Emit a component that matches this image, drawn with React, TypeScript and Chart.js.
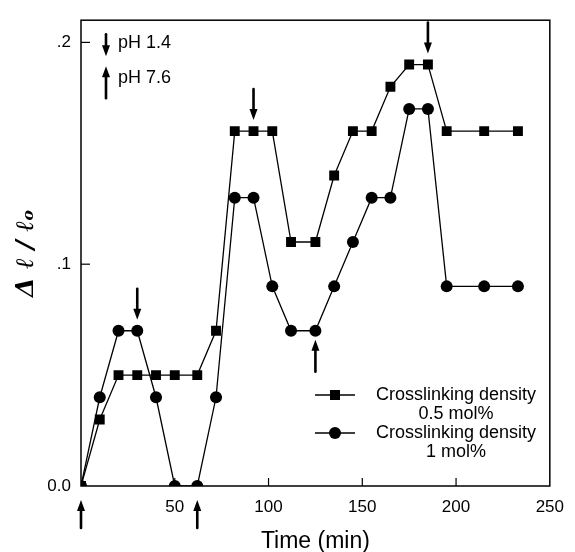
import React, { useEffect, useRef } from "react";
import { Chart, registerables } from "chart.js";

Chart.register(...registerables);

// ---- data ----
const times = [0, 10, 20, 30, 40, 50, 62, 72, 82, 92, 102, 112, 125, 135, 145, 155, 165, 175, 185, 195, 215, 233];
const density05 = [0, 0.03, 0.05, 0.05, 0.05, 0.05, 0.05, 0.07, 0.16, 0.16, 0.16, 0.11, 0.11, 0.14, 0.16, 0.16, 0.18, 0.19, 0.19, 0.16, 0.16, 0.16];
const density1 = [0, 0.04, 0.07, 0.07, 0.04, 0, 0, 0.04, 0.13, 0.13, 0.09, 0.07, 0.07, 0.09, 0.11, 0.13, 0.13, 0.17, 0.17, 0.09, 0.09, 0.09];

const xTicks = [0, 50, 100, 150, 200, 250];
const xTickLabels = ["", "50", "100", "150", "200", "250"];
const yTicks = [0, 0.1, 0.2];
const yTickLabels = ["0.0", ".1", ".2"];

const seriesLabels = [["Crosslinking density", "0.5 mol%"], ["Crosslinking density", "1 mol%"]];
const phLabels = ["pH 1.4", "pH 7.6"];

// pH change markers: down arrows = pH 1.4, up arrows = pH 7.6
const phDownTimes = [30, 92, 185];
const phDownValues = [0.07, 0.16, 0.19];
const phUpTimes = [125];
const phUpValues = [0.07];
const phUpAxisTimes = [0, 62];

const FONT = '"Liberation Sans", Arial, sans-serif';

function drawArrow(ctx: CanvasRenderingContext2D, x: number, tipY: number, length: number, dir: number) {
  // dir = 1 -> pointing down (tip below tail), -1 -> pointing up
  const headLen = 11;
  const headHalf = 4;
  const tailY = tipY - dir * length;
  const baseY = tipY - dir * headLen;
  ctx.save();
  ctx.strokeStyle = "#000";
  ctx.fillStyle = "#000";
  ctx.lineWidth = 2.6;
  ctx.lineCap = "round";
  ctx.beginPath();
  ctx.moveTo(x, tailY);
  ctx.lineTo(x, baseY + dir * 2);
  ctx.stroke();
  ctx.beginPath();
  ctx.moveTo(x, tipY);
  ctx.lineTo(x - headHalf, baseY);
  ctx.lineTo(x + headHalf, baseY);
  ctx.closePath();
  ctx.fill();
  ctx.restore();
}

const decorPlugin = {
  id: "decor",
  afterDraw(chart: any) {
    const { ctx, chartArea: ca, scales } = chart;
    const xs = scales.x;
    const ys = scales.y;
    ctx.save();
    // frame
    ctx.strokeStyle = "#000";
    ctx.lineWidth = 1.5;
    ctx.strokeRect(ca.left, ca.top, ca.right - ca.left, ca.bottom - ca.top);
    // inner ticks
    ctx.lineWidth = 1.2;
    yTicks.forEach((v) => {
      if (v === 0) return;
      const py = ys.getPixelForValue(v);
      ctx.beginPath();
      ctx.moveTo(ca.left, py);
      ctx.lineTo(ca.left + 9, py);
      ctx.stroke();
    });
    xTicks.forEach((v) => {
      if (v === 0 || v === 250) return;
      const px = xs.getPixelForValue(v);
      ctx.beginPath();
      ctx.moveTo(px, ca.bottom);
      ctx.lineTo(px, ca.bottom - 8);
      ctx.stroke();
    });

    // data arrows
    phDownTimes.forEach((t, i) => {
      const px = xs.getPixelForValue(t);
      const py = ys.getPixelForValue(phDownValues[i]);
      drawArrow(ctx, px, py - 11, 31, 1);
    });
    phUpTimes.forEach((t, i) => {
      const px = xs.getPixelForValue(t);
      const py = ys.getPixelForValue(phUpValues[i]);
      drawArrow(ctx, px, py + 9, 32, -1);
    });
    phUpAxisTimes.forEach((t) => {
      const px = xs.getPixelForValue(t);
      drawArrow(ctx, px, ca.bottom + 14, 28, -1);
    });

    // pH legend (top-left)
    const lx = ca.left + 25;
    drawArrow(ctx, lx, ca.top + 36, 22, 1);
    drawArrow(ctx, lx, ca.top + 46, 32, -1);
    ctx.fillStyle = "#000";
    ctx.font = `18px ${FONT}`;
    ctx.textAlign = "left";
    ctx.textBaseline = "middle";
    ctx.fillText(phLabels[0], lx + 12, ca.top + 23);
    ctx.fillText(phLabels[1], lx + 12, ca.top + 58);

    // series legend
    const legX1 = 315;
    const legX2 = 355;
    const legMid = (legX1 + legX2) / 2;
    const rowY = [395, 433];
    ctx.strokeStyle = "#000";
    ctx.lineWidth = 1.3;
    rowY.forEach((ry, i) => {
      ctx.beginPath();
      ctx.moveTo(legX1, ry);
      ctx.lineTo(legX2, ry);
      ctx.stroke();
      if (i === 0) {
        ctx.fillRect(legMid - 5, ry - 5, 10, 10);
      } else {
        ctx.beginPath();
        ctx.arc(legMid, ry, 6, 0, Math.PI * 2);
        ctx.fill();
      }
      ctx.textAlign = "center";
      ctx.font = `18px ${FONT}`;
      ctx.fillText(seriesLabels[i][0], 456, ry);
      ctx.fillText(seriesLabels[i][1], 456, ry + 19);
    });
    ctx.restore();
  },
};

export default function App() {
  const ref = useRef<HTMLCanvasElement | null>(null);
  useEffect(() => {
    document.body.style.margin = "0";
    const canvas = ref.current;
    if (!canvas) return;
    const chart = new Chart(canvas, {
      type: "line",
      data: {
        datasets: [
          {
            label: seriesLabels[0].join(" "),
            data: times.map((t, i) => ({ x: t, y: density05[i] })),
            borderColor: "#000",
            backgroundColor: "#000",
            borderWidth: 1.3,
            pointStyle: "rect",
            pointRadius: 7,
            pointBorderWidth: 0,
            tension: 0,
          },
          {
            label: seriesLabels[1].join(" "),
            data: times.map((t, i) => ({ x: t, y: density1[i] })),
            borderColor: "#000",
            backgroundColor: "#000",
            borderWidth: 1.3,
            pointStyle: "circle",
            pointRadius: 6,
            pointBorderWidth: 0,
            tension: 0,
          },
        ],
      },
      options: {
        responsive: false,
        animation: false,
        devicePixelRatio: 1,
        layout: { padding: { left: 0, top: 12, right: 17, bottom: 0 } },
        plugins: { legend: { display: false }, tooltip: { enabled: false } },
        scales: {
          x: {
            type: "linear",
            min: 0,
            max: 250,
            grid: { display: false, drawTicks: false },
            border: { display: false },
            afterBuildTicks: (s: any) => {
              s.ticks = xTicks.map((v) => ({ value: v }));
            },
            afterFit: (s: any) => {
              s.height = 66;
            },
            ticks: {
              color: "#000",
              padding: 11,
              font: { family: FONT, size: 17 },
              maxRotation: 0,
              callback: (v: any) => {
                const i = xTicks.indexOf(Number(v));
                return i >= 0 ? xTickLabels[i] : "";
              },
            },
            title: {
              display: true,
              text: "Time (min)",
              color: "#000",
              font: { family: FONT, size: 23, lineHeight: 1 },
              padding: { top: 0, bottom: -1 },
            },
          },
          y: {
            type: "linear",
            min: 0,
            max: 0.21,
            grid: { display: false, drawTicks: false },
            border: { display: false },
            afterBuildTicks: (s: any) => {
              s.ticks = yTicks.map((v) => ({ value: v }));
            },
            afterFit: (s: any) => {
              s.width = 81;
            },
            ticks: {
              color: "#000",
              padding: 10,
              font: { family: FONT, size: 17 },
              callback: (v: any) => {
                const i = yTicks.findIndex((t) => Math.abs(t - v) < 1e-9);
                return i >= 0 ? yTickLabels[i] : "";
              },
            },
            title: {
              display: true,
              text: "Δ ℓ / ℓₒ",
              color: "#000",
              font: { family: '"DejaVu Serif", serif', size: 25, style: "italic", weight: "bold", lineHeight: 1 },
              padding: { top: 14, bottom: 0 },
            },
          },
        },
      },
      plugins: [decorPlugin],
    });
    return () => chart.destroy();
  }, []);
  return (
    <div style={{ position: "absolute", left: 0, top: 0, width: 575, height: 552, background: "#fff" }}>
      <canvas ref={ref} width={575} height={552} />
    </div>
  );
}
